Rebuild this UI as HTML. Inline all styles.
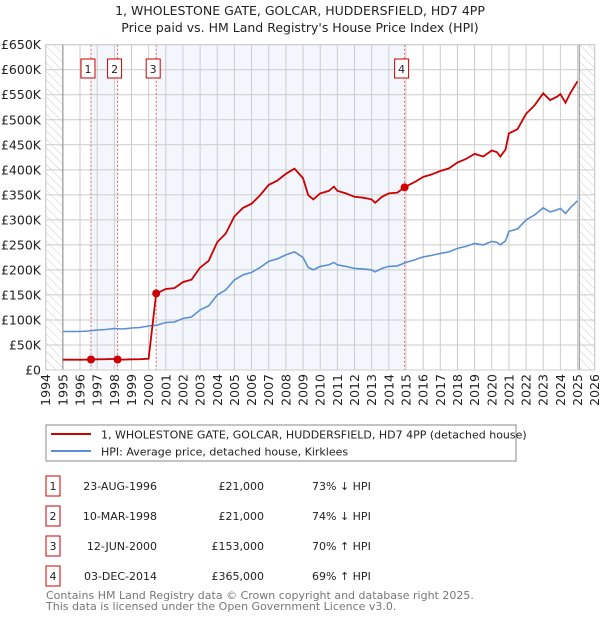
<!DOCTYPE html>
<html><head><meta charset="utf-8"><style>
body{margin:0;background:#fff;font-family:"Liberation Sans","DejaVu Sans",sans-serif;}
svg text{font-family:"DejaVu Sans","Liberation Sans",sans-serif;}
</style></head><body>
<svg id="chart" width="600" height="620" viewBox="0 0 600 620" xmlns="http://www.w3.org/2000/svg">
<defs><pattern id="hatch" width="6" height="6" patternUnits="userSpaceOnUse" patternTransform="rotate(-45)"><line x1="0" y1="0" x2="0" y2="6" stroke="#ccc" stroke-width="1"/></pattern></defs>
<text x="300" y="15" text-anchor="middle" font-size="12.5" fill="#222">1, WHOLESTONE GATE, GOLCAR, HUDDERSFIELD, HD7 4PP</text>
<text x="300" y="32" text-anchor="middle" font-size="12.5" fill="#222">Price paid vs. HM Land Registry's House Price Index (HPI)</text>
<g id="plot"></g>
<g>
<rect x="46" y="425" width="470" height="36" fill="#fff" stroke="#888"/>
<line x1="51" y1="434" x2="91" y2="434" stroke="#cc0000" stroke-width="2"/>
<text x="101" y="438.5" font-size="11" fill="#222">1, WHOLESTONE GATE, GOLCAR, HUDDERSFIELD, HD7 4PP (detached house)</text>
<line x1="51" y1="451" x2="91" y2="451" stroke="#5b8fd4" stroke-width="2"/>
<text x="101" y="455.5" font-size="11" fill="#222">HPI: Average price, detached house, Kirklees</text>
</g>
<g id="table" font-size="11" fill="#222"></g>
<text x="46" y="599" font-size="11" fill="#777">Contains HM Land Registry data © Crown copyright and database right 2025.</text>
<text x="46" y="610" font-size="11" fill="#777">This data is licensed under the Open Government Licence v3.0.</text>
</svg>
<script>
const hpiYears=[1995,1995.5,1996,1996.5,1997,1997.5,1998,1998.5,1999,1999.5,2000,2000.5,2001,2001.5,2002,2002.5,2003,2003.5,2004,2004.5,2005,2005.5,2006,2006.5,2007,2007.5,2008,2008.5,2009,2009.3,2009.6,2010,2010.5,2010.8,2011,2011.5,2012,2012.5,2013,2013.2,2013.6,2014,2014.5,2015,2015.5,2016,2016.5,2017,2017.5,2018,2018.5,2019,2019.5,2020,2020.3,2020.5,2020.8,2021,2021.5,2022,2022.5,2023,2023.4,2023.8,2024,2024.3,2024.6,2025];
const hpiValues=[77,77,77,78,80,81,83,82,84,85,88,90,95,96,103,106,120,128,150,160,180,190,195,205,217,222,230,236,225,205,200,207,210,215,210,207,203,202,200,196,203,207,208,215,220,226,229,233,236,243,247,253,250,257,255,250,258,277,282,300,310,324,316,320,323,313,325,338];
const saleDates=[1996.64,1998.19,2000.44,2014.92];
const salePrices=[21000,21000,153000,365000];
const saleLabels=["1","2","3","4"];
const saleDateText=["23-AUG-1996","10-MAR-1998","12-JUN-2000","03-DEC-2014"];
const salePriceText=["£21,000","£21,000","£153,000","£365,000"];
const saleHpiText=["73% ↓ HPI","74% ↓ HPI","70% ↑ HPI","69% ↑ HPI"];
const yTicks=[0,50000,100000,150000,200000,250000,300000,350000,400000,450000,500000,550000,600000,650000];
const yTickLabels=["£0","£50K","£100K","£150K","£200K","£250K","£300K","£350K","£400K","£450K","£500K","£550K","£600K","£650K"];
const xTicks=[1994,1995,1996,1997,1998,1999,2000,2001,2002,2003,2004,2005,2006,2007,2008,2009,2010,2011,2012,2013,2014,2015,2016,2017,2018,2019,2020,2021,2022,2023,2024,2025,2026];

const X0=45.7,X1=594.7,Y0=370,Y1=44.7;
const x=t=>X0+(t-1994)/32*(X1-X0);
const y=v=>Y0-v/650000*(Y0-Y1);
const NS="http://www.w3.org/2000/svg";
const plot=document.getElementById('plot');
function mk(tag,attrs,parent){const e=document.createElementNS(NS,tag);for(const k in attrs)e.setAttribute(k,attrs[k]);(parent||plot).appendChild(e);return e;}
function hpiAt(t){if(t<=hpiYears[0])return hpiValues[0];for(let i=1;i<hpiYears.length;i++){if(t<=hpiYears[i]){const f=(t-hpiYears[i-1])/(hpiYears[i]-hpiYears[i-1]);return hpiValues[i-1]+f*(hpiValues[i]-hpiValues[i-1]);}}return hpiValues[hpiValues.length-1];}

let e;
e=mk('rect',{x:X0,y:Y1,width:X1-X0,height:Y0-Y1,fill:'#fff'});

e=mk('rect',{x:x(saleDates[0]),y:Y1,width:x(saleDates[1])-x(saleDates[0]),height:Y0-Y1,fill:'#eef3fc',opacity:0.7});

e=mk('rect',{x:x(saleDates[2]),y:Y1,width:x(saleDates[3])-x(saleDates[2]),height:Y0-Y1,fill:'#eef3fc',opacity:0.7});

e=mk('rect',{x:X0,y:Y1,width:x(1995)-X0,height:Y0-Y1,fill:'url(#hatch)'});

e=mk('rect',{x:x(2025.1),y:Y1,width:X1-x(2025.1),height:Y0-Y1,fill:'url(#hatch)'});

xTicks.forEach(t=>{
 const g=mk('line',{x1:x(t),x2:x(t),y1:Y1,y2:Y0,stroke:'#ccc','stroke-width':1});
 
 const l=mk('text',{x:0,y:0,transform:`translate(${x(t)+4.5},${Y0+4}) rotate(-90)`,'text-anchor':'end','font-size':12.5,fill:'#222'});
 l.textContent=t;
 
});
yTicks.forEach((v,i)=>{
 const g=mk('line',{x1:X0,x2:X1,y1:y(v),y2:y(v),stroke:'#ccc','stroke-width':1});
 
 const l=mk('text',{x:41,y:y(v)+4.5,'text-anchor':'end','font-size':12.5,fill:'#222'});
 l.textContent=yTickLabels[i];
 
});
e=mk('line',{x1:x(1995),x2:x(1995),y1:Y1,y2:Y0,stroke:'#999','stroke-width':1.2});

e=mk('line',{x1:x(2025.1),x2:x(2025.1),y1:Y1,y2:Y0,stroke:'#999','stroke-width':1.2});


saleDates.forEach((t,i)=>{
 const l=mk('line',{x1:x(t),x2:x(t),y1:Y1,y2:Y0,stroke:'#e06060','stroke-width':1,'stroke-dasharray':'2,2'});
 
 const r=mk('rect',{x:x(t)-10,y:59,width:14,height:19,fill:'#fff',stroke:'#cc0000','stroke-width':1});
 
 const tx=mk('text',{x:x(t)-3,y:73,'text-anchor':'middle','font-size':11,fill:'#222'});
 tx.textContent=saleLabels[i];
 
});

let hp='';hpiYears.forEach((t,i)=>{hp+=(i?'L':'M')+x(t).toFixed(1)+','+y(hpiValues[i]*1000).toFixed(1);});
e=mk('path',{d:hp,fill:'none',stroke:'#5b8fd4','stroke-width':1.6});


const ts=[1995];hpiYears.forEach(t=>{if(t>1995)ts.push(t);});saleDates.forEach(t=>ts.push(t,t+0.001));ts.push(2025);ts.sort((a,b)=>a-b);
function saleIdx(t){let k=-1;for(let i=0;i<saleDates.length;i++)if(t>=saleDates[i])k=i;return k;}
let rp='';ts.forEach((t,i)=>{if(t>2025)return;let k=saleIdx(t);if(k<0)k=0;const v=salePrices[k]*hpiAt(t)/hpiAt(saleDates[k]);rp+=(rp?'L':'M')+x(t).toFixed(1)+','+y(v).toFixed(1);});
e=mk('path',{d:rp,fill:'none',stroke:'#cc0000','stroke-width':1.8});

saleDates.forEach((t,i)=>{
 const c=mk('circle',{cx:x(t),cy:y(salePrices[i]),r:4,fill:'#cc0000'});
 
});
e=mk('rect',{x:X0,y:Y1,width:X1-X0,height:Y0-Y1,fill:'none',stroke:'#ccc'});


const tb=document.getElementById('table');
saleDates.forEach((t,i)=>{
 const cy=488+i*30;
 const r=mk('rect',{x:46,y:cy-12,width:14,height:20,fill:'#fff',stroke:'#cc0000'},tb);
 
 const a=mk('text',{x:53,y:cy+2,'text-anchor':'middle'},tb);a.textContent=saleLabels[i];
 
 const d=mk('text',{x:157,y:cy+2,'text-anchor':'end'},tb);d.textContent=saleDateText[i];
 
 const p=mk('text',{x:264,y:cy+2,'text-anchor':'end'},tb);p.textContent=salePriceText[i];
 
 const h=mk('text',{x:312,y:cy+2},tb);h.textContent=saleHpiText[i];
 
});
</script>
</body></html>
